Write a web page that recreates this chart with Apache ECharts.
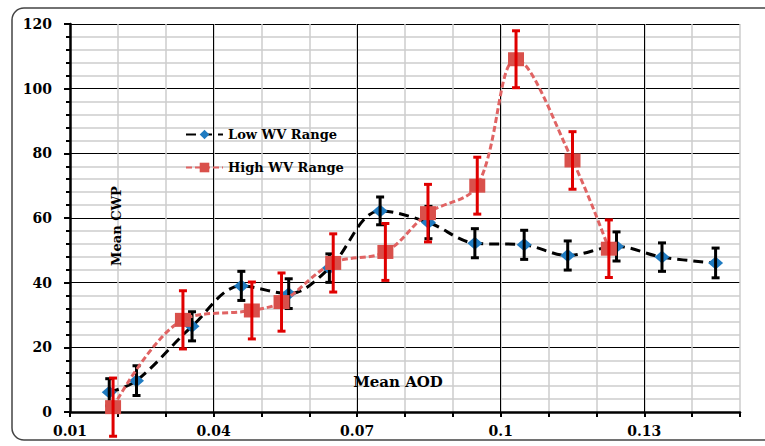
<!DOCTYPE html>
<html>
<head>
<meta charset="utf-8">
<script src="https://cdn.jsdelivr.net/npm/echarts@6/dist/echarts.min.js"></script>
<style>
  html, body { margin: 0; padding: 0; background: #fff; }
  #chart { width: 765px; height: 446px; }
</style>
</head>
<body>
<div id="chart"></div>
<script>
// Low WV range (blue diamonds, black dashed line, black error bars)
const lowX = [0.0182, 0.0239, 0.0355, 0.0458, 0.0557, 0.0642, 0.0748, 0.0849, 0.0946, 0.1049, 0.114, 0.1242, 0.1337, 0.1449]
const lowY = [6.1, 9.7, 26.5, 39.0, 36.6, 44.5, 62.2, 58.6, 52.2, 51.7, 48.4, 51.2, 47.9, 46.1]
const lowErr = [4.2, 4.6, 4.5, 4.5, 4.6, 4.4, 4.3, 5.0, 4.5, 4.5, 4.5, 4.5, 4.4, 4.6]

// High WV range (red squares, red dashed line, red error bars)
const highX = [0.019, 0.0336, 0.048, 0.0542, 0.065, 0.0759, 0.0848, 0.0951, 0.1032, 0.115, 0.1226]
const highY = [1.5, 28.5, 31.4, 34.0, 46.1, 49.5, 61.5, 70.0, 109.1, 77.8, 50.5]
const highErr = [9.0, 9.0, 8.8, 9.0, 9.0, 8.8, 8.9, 8.8, 8.8, 8.9, 8.9]

const xMin = 0.01
const xMax = 0.15
const yMin = 0
const yMax = 120

const serif = '"DejaVu Serif", "Liberation Serif", serif'
const colors = {
    blue: '#1f7bc1',
    red: '#d9504b',
    redLine: '#e06363',
    redBar: '#e00000',
    black: '#000000',
    minorGrid: '#cccccc',
}

const pairs = (xs, ys) => xs.map((x, i) => [x, ys[i]])
const bars = (xs, ys, es) => xs.map((x, i) => [x, ys[i] - es[i], ys[i] + es[i]])

const errorBar = (color) => (params, api) => {
    const x = api.value(0)
    const lo = api.coord([x, api.value(1)])
    const hi = api.coord([x, api.value(2)])
    const half = 4
    const style = { stroke: color, lineWidth: 3 }
    return {
        type: 'group',
        children: [
            { type: 'line', shape: { x1: lo[0], y1: lo[1], x2: hi[0], y2: hi[1] }, style },
            { type: 'line', shape: { x1: lo[0] - half, y1: lo[1], x2: lo[0] + half, y2: lo[1] }, style },
            { type: 'line', shape: { x1: hi[0] - half, y1: hi[1], x2: hi[0] + half, y2: hi[1] }, style },
        ],
    }
}

// svg renderer: canvas dashes came out solid
const chart = echarts.init(document.getElementById('chart'), null, { renderer: 'svg' })

chart.setOption({
    backgroundColor: '#fff',
    animation: false,
    textStyle: { fontFamily: serif, fontWeight: 'bold', color: '#000' },
    graphic: [
        {
            type: 'rect',
            shape: { x: 12, y: 8, width: 780, height: 432, r: 12 },
            style: { fill: 'none', stroke: '#444', lineWidth: 1.5 },
            silent: true,
        },
        {
            // y axis title sits inside the plot area
            type: 'text',
            x: 116,
            y: 226,
            rotation: Math.PI / 2,
            style: {
                text: 'Mean CWP',
                font: 'bold 13px ' + serif,
                fill: '#000',
                align: 'center',
                verticalAlign: 'middle',
            },
            z: 10,
        },
    ],
    legend: {
        orient: 'vertical',
        left: 180,
        top: 123,
        itemWidth: 37,
        itemHeight: 12,
        itemGap: 20,
        data: ['Low WV Range', 'High WV Range'],
        textStyle: { fontFamily: serif, fontWeight: 'bold', fontSize: 13, color: '#000' },
    },
    grid: { left: 70, right: 25, top: 24, bottom: 34 },
    xAxis: [
        {
            type: 'value',
            min: xMin,
            max: xMax,
            interval: 0.01,
            axisLine: { lineStyle: { color: colors.black, width: 2.5 } },
            axisTick: { length: 5, lineStyle: { color: colors.black, width: 2 } },
            axisLabel: { show: false },
            splitLine: { lineStyle: { color: colors.minorGrid, width: 1.5 } },
        },
        {
            type: 'value',
            position: 'bottom',
            min: xMin,
            max: xMax,
            interval: 0.03,
            name: 'Mean AOD',
            nameLocation: 'middle',
            nameGap: -38,
            nameTextStyle: { fontFamily: serif, fontWeight: 'bold', fontSize: 15, color: '#000', padding: [0, 14, 0, 0] },
            axisLine: { show: false },
            axisTick: { show: false },
            axisLabel: { margin: 12, fontSize: 14, fontWeight: 'bold', fontFamily: serif, color: '#000', showMaxLabel: false },
            splitLine: { showMinLine: false, showMaxLine: false, lineStyle: { color: colors.black, width: 1 } },
        },
    ],
    yAxis: {
        type: 'value',
        min: yMin,
        max: yMax,
        interval: 20,
        axisLine: { show: true, lineStyle: { color: colors.black, width: 2.5 } },
        axisTick: { show: true, length: 6, lineStyle: { color: colors.black, width: 2 } },
        minorTick: { show: true, splitNumber: 5, length: 4, lineStyle: { color: colors.black, width: 2 } },
        axisLabel: { margin: 18, fontSize: 14, fontWeight: 'bold', fontFamily: serif, color: '#000' },
        splitLine: { lineStyle: { color: colors.black, width: 1 } },
        minorSplitLine: { show: true, lineStyle: { color: colors.minorGrid, width: 1.5 } },
    },
    series: [
        {
            name: 'Low WV Range',
            type: 'line',
            xAxisIndex: 0,
            smooth: 0.35,
            symbol: 'diamond',
            symbolSize: [15, 13],
            itemStyle: { color: colors.blue },
            lineStyle: { color: colors.black, width: 3, type: [10, 6], cap: 'butt' },
            data: pairs(lowX, lowY),
            z: 3,
        },
        {
            name: 'Low WV err',
            type: 'custom',
            xAxisIndex: 0,
            renderItem: errorBar(colors.black),
            encode: { x: 0, y: [1, 2] },
            data: bars(lowX, lowY, lowErr),
            z: 4,
        },
        {
            name: 'High WV Range',
            type: 'line',
            xAxisIndex: 0,
            smooth: 0.35,
            symbol: 'rect',
            symbolSize: [16, 14],
            itemStyle: { color: colors.red },
            lineStyle: { color: colors.redLine, width: 3, type: [6, 3], cap: 'butt' },
            data: pairs(highX, highY),
            z: 5,
        },
        {
            name: 'High WV err',
            type: 'custom',
            xAxisIndex: 0,
            renderItem: errorBar(colors.redBar),
            encode: { x: 0, y: [1, 2] },
            data: bars(highX, highY, highErr),
            z: 6,
        },
    ],
})
</script>
</body>
</html>
